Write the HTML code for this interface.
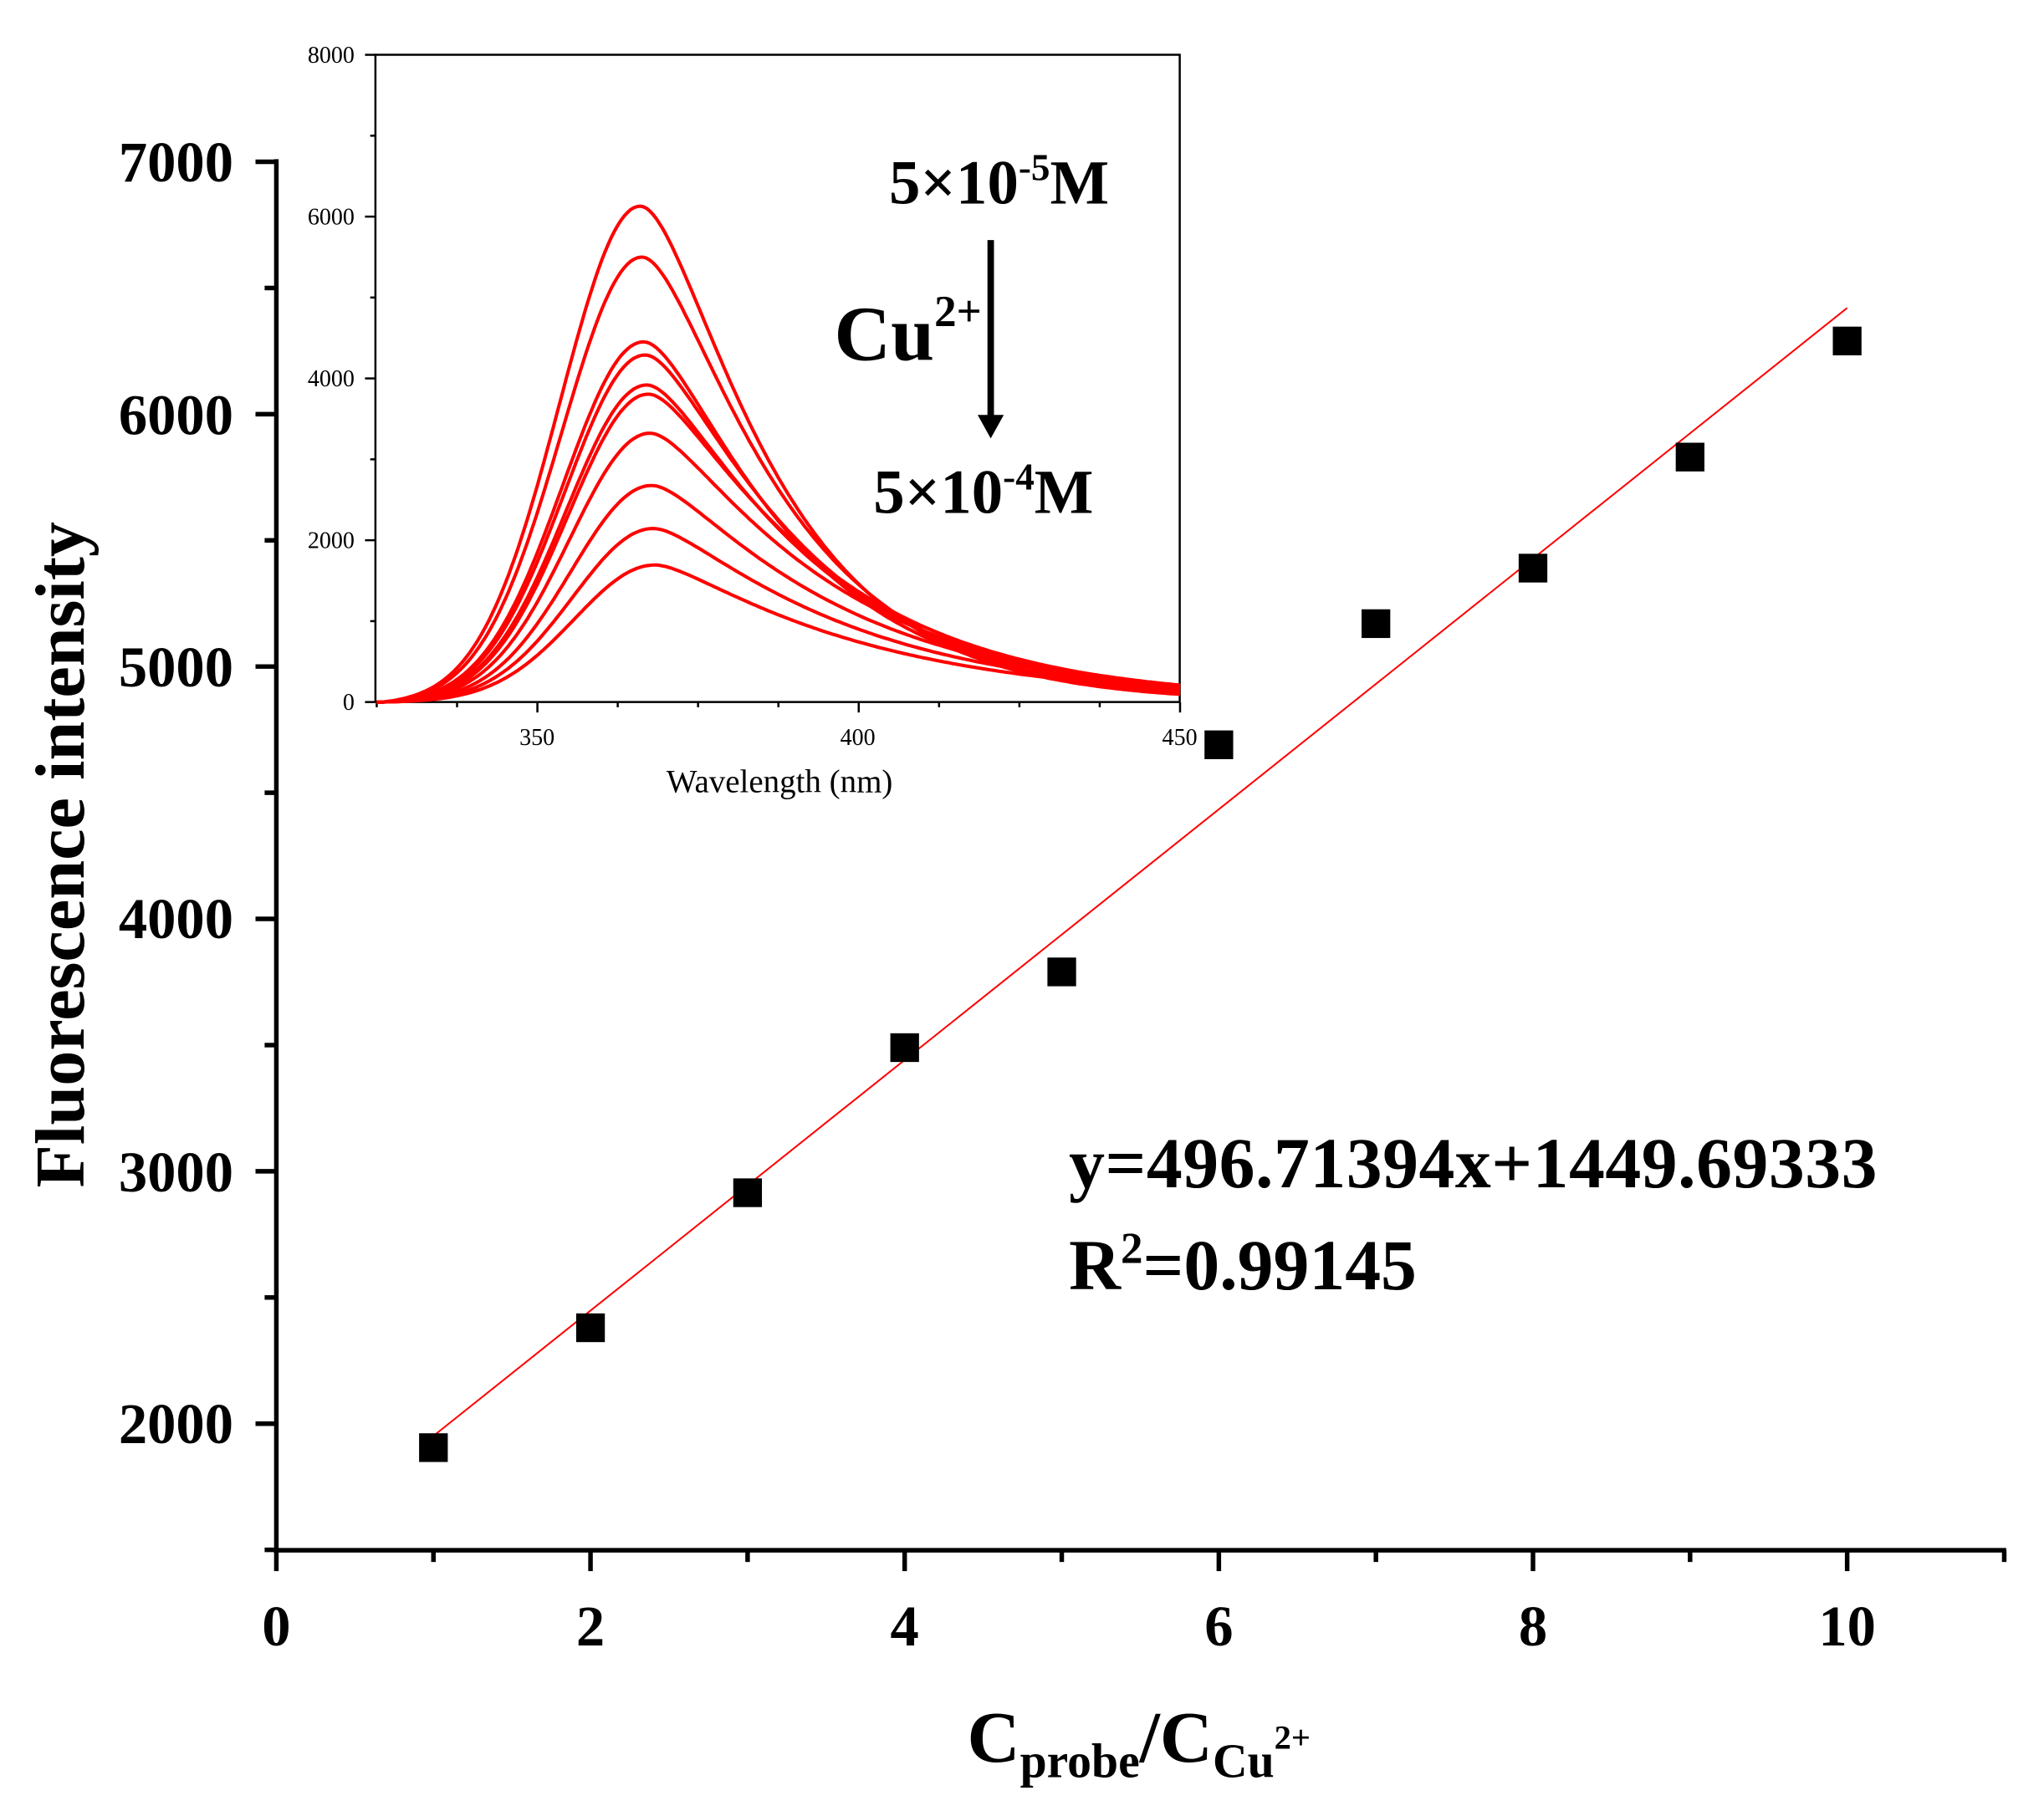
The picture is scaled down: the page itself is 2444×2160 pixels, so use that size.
<!DOCTYPE html>
<html><head><meta charset="utf-8"><style>html,body{margin:0;padding:0;background:#fff}svg{display:block}</style></head>
<body>
<svg id="s" xmlns="http://www.w3.org/2000/svg" width="2444" height="2160" viewBox="0 0 1568 1384" preserveAspectRatio="none" font-family="'Liberation Serif', serif">
<rect width="1568" height="1384" fill="#fff"/>
<g stroke="#000" stroke-width="3.5" fill="none">
<line x1="212" y1="122" x2="212" y2="1190"/>
<line x1="210" y1="1188" x2="1539" y2="1188"/>
</g>
<g id="mt" stroke="#000" stroke-width="3.5"></g>
<g font-weight="bold" font-size="44" text-anchor="end" fill="#000">
<text x="179" y="139">7000</text><text x="179" y="333">6000</text><text x="179" y="526">5000</text>
<text x="179" y="719">4000</text><text x="179" y="913">3000</text><text x="179" y="1106">2000</text>
</g>
<g font-weight="bold" font-size="44" text-anchor="middle" fill="#000">
<text x="212" y="1261">0</text><text x="453" y="1261">2</text><text x="694" y="1261">4</text>
<text x="935" y="1261">6</text><text x="1176" y="1261">8</text><text x="1417" y="1261">10</text>
</g>
<text transform="translate(64,655) rotate(-90)" font-weight="bold" font-size="54" text-anchor="middle">Fluorescence intensity</text>
<text x="742" y="1350" font-weight="bold" font-size="56">C<tspan font-size="37" dy="12">probe</tspan><tspan font-size="56" dy="-12">/C</tspan><tspan font-size="37" dy="12">Cu</tspan><tspan font-size="26" dy="-22">2+</tspan></text>
<line x1="333" y1="1100" x2="1417" y2="236" stroke="#ff0000" stroke-width="1.3"/>
<g id="pts" fill="#000"></g>
<text x="820" y="910" font-weight="bold" font-size="55" textLength="620">y=496.71394x+1449.69333</text>
<text x="820" y="988" font-weight="bold" font-size="55">R<tspan font-size="34" dy="-20">2</tspan><tspan font-size="55" dy="20">=0.99145</tspan></text>
<rect x="288" y="42" width="617" height="496" fill="#fff" stroke="none"/>
<g stroke="#000" stroke-width="1.6" fill="none">
<polyline points="288,538 288,42 905,42 905,538"/>
<line x1="288" y1="538" x2="905" y2="538"/>
</g>
<g id="it" stroke="#000" stroke-width="1.6"></g>
<g font-size="18" text-anchor="end" fill="#000">
<text x="272" y="48">8000</text><text x="272" y="172">6000</text><text x="272" y="296">4000</text>
<text x="272" y="420">2000</text><text x="272" y="544">0</text>
</g>
<g font-size="18" text-anchor="middle" fill="#000">
<text x="412" y="571">350</text><text x="658" y="571">400</text><text x="905" y="571">450</text>
</g>
<text x="598" y="607" font-size="25" text-anchor="middle">Wavelength (nm)</text>
<g id="curves" fill="none" stroke="#ff0000" stroke-width="2.6"></g>
<text x="682" y="156" font-weight="bold" font-size="48">5×10<tspan font-size="29" dy="-18">-5</tspan><tspan font-size="48" dy="18">M</tspan></text>
<text x="640" y="276" font-weight="bold" font-size="60">Cu<tspan font-size="34" dy="-26">2+</tspan></text>
<line x1="760" y1="184" x2="760" y2="320" stroke="#000" stroke-width="5"/>
<polygon points="750,318 770,318 760,336" fill="#000"/>
<text x="670" y="393" font-weight="bold" font-size="48">5×10<tspan font-size="29" dy="-18">-4</tspan><tspan font-size="48" dy="18">M</tspan></text>
</svg>
<script>
var NS="http://www.w3.org/2000/svg";
function el(p,t,a){var e=document.createElementNS(NS,t);for(var k in a)e.setAttribute(k,a[k]);document.getElementById(p).appendChild(e);}
for(var v=1500;v<=7000;v+=500){var y=1091-(v-2000)*0.1934;var maj=(v%1000==0);el('mt','line',{x1:maj?196:203,y1:y,x2:212,y2:y});}
for(var i=0;i<=11;i++){var x=212+i*120.5;var maj=(i%2==0);el('mt','line',{x1:x,y1:1188,x2:x,y2:maj?1204:1197});}
var d=[1905,2380,2915,3490,3790,4690,5170,5390,5830,6290];
for(var i=0;i<10;i++){var x=212+(i+1)*120.5,y=1091-(d[i]-2000)*0.1934;el('pts','rect',{x:x-11,y:y-11,width:22,height:22});}
for(var v=0;v<=8000;v+=1000){var y=538-v*0.062;el('it','line',{x1:(v%2000==0)?280:284,y1:y,x2:288,y2:y});}
for(var w=325;w<=450;w+=12.5){var x=289+(w-325)*4.93;var maj=(Math.abs((w-350)%50)<0.01);el('it','line',{x1:x,y1:538,x2:x,y2:maj?546:542});}
var A=[6129,5500,4452,4290,3919,3806,3323,2677,2145,1694];
for(var j=0;j<10;j++){var pk=366+j*0.25;var c=17.8+j*1.6;var s=12.5;var L=pk-326;var off=Math.exp(-L*L/(2*s*s));var pts=[];
for(var w=325;w<=450;w+=0.5){var dd=w-pk,f;
if(dd<0){f=(Math.exp(-dd*dd/(2*s*s))-off)/(1-off);if(w<326)f=0;f=Math.max(0,f);}
else f=Math.exp(-dd*dd/(200+c*dd));
var x=289+(w-325)*4.93,y=538-A[j]*f*0.062;pts.push(x.toFixed(1)+","+y.toFixed(1));}
el('curves','polyline',{points:pts.join(" ")});}
</script>
</body></html>
